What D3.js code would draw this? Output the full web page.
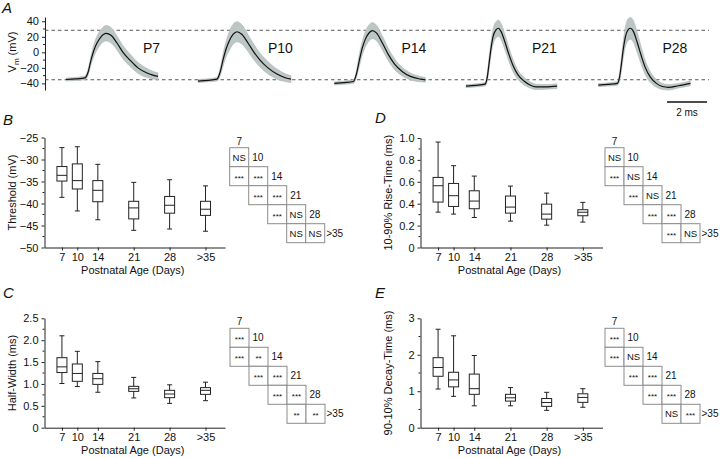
<!DOCTYPE html>
<html><head><meta charset="utf-8">
<script src="https://cdn.jsdelivr.net/npm/d3@7"></script>
<style>
body{margin:0;background:#fff}
svg{display:block}
text{font-family:"Liberation Sans",Arial,Helvetica,sans-serif;fill:#111}
</style>
</head><body>
<svg id="c" width="720" height="458"></svg>
<script>
// ---------- data ----------
const ages = ["7","10","14","21","28",">35"];
const ageDays = [7,10,14,21,28,35];

// Panel A: mean +/- SD action potential traces (time in ms from trace start, Vm in mV)
const traceNames = ["P7","P10","P14","P21","P28"];
const traceStart = [1.05, 7.65, 14.47, 21.05, 27.67];
const p7T  = [0,0.5,0.95,1.1,1.25,1.4,1.55,1.75,2.0,2.25,2.55,2.85,3.2,3.6,4.0,4.3,4.6];
const p7V  = [-35,-34.3,-32.8,-26,-10,3,12,20,24.5,22,12,0,-10,-20,-26,-29,-31];
const p7Sd = [2,2,2.5,4,6,8,9,9.5,10,10,9,8.5,8,7,6,5,4.5];
const p10T  = [0,0.5,0.95,1.1,1.25,1.4,1.55,1.75,1.95,2.2,2.5,2.8,3.1,3.5,3.95,4.4,4.65];
const p10V  = [-37,-36,-34.5,-26,-10,4,14,23,26.5,23,12,0,-10,-20,-28,-33,-34.5];
const p10Sd = [2,2,2.5,5,8,10,12,13,13,12.5,11,10,9,8,6.5,5,4.5];
const p14T  = [0,0.5,0.95,1.1,1.25,1.4,1.55,1.75,1.9,2.1,2.4,2.7,3.0,3.4,3.8,4.3,4.55];
const p14V  = [-40,-39,-37.5,-28,-10,6,17,25.5,28,25,12,-3,-15,-25,-31,-34.5,-35.5];
const p14Sd = [2,2,2.5,5,8,9,10,10.5,10.5,10,9,8,7,5.5,4.5,3.5,3];
const p21T  = [0,0.5,0.95,1.05,1.15,1.25,1.35,1.5,1.62,1.75,1.95,2.15,2.35,2.6,2.9,3.2,3.5,4.0,4.55];
const p21V  = [-43.5,-42.5,-41,-34,-15,5,20,29,31,27,13,-3,-17,-29,-37,-42,-44.5,-44.5,-43.5];
const p21Sd = [2,2,2.5,5,8,9,10,10.5,10.5,10.5,10,9,8,6,5,4,3.5,3,3];
const p28T  = [0,0.5,0.95,1.05,1.15,1.25,1.35,1.5,1.6,1.75,1.95,2.15,2.35,2.6,2.9,3.2,3.5,4.0,4.6];
const p28V  = [-42.2,-41.3,-40,-33,-15,5,20,29.5,31,27,12,-5,-20,-32,-40,-44,-45,-43,-40];
const p28Sd = [2,2,2.5,5,9,11,13,14,14,14,13,11,9,7,5,4,3.5,3,3];
const dashedLevels = [28.4, -35.3];
const vmTicks = [-40,-20,0,20,40];

// Panel B: Threshold (mV)
const thresholdHigh   = [-27.3,-27.1,-31.1,-35.2,-34.6,-36.0];
const thresholdQ3     = [-31.6,-31.0,-34.8,-39.5,-38.4,-39.5];
const thresholdMedian = [-33.6,-34.8,-37.0,-41.0,-40.4,-41.3];
const thresholdQ1     = [-34.9,-36.7,-39.6,-43.5,-42.2,-42.7];
const thresholdLow    = [-38.6,-41.7,-43.7,-46.1,-45.8,-46.3];
const thresholdSig = [["NS"],["***","***"],["***","***"],["***","NS"],["NS","NS"]];

// Panel D: 10-90% rise time (ms)
const riseHigh   = [0.963,0.747,0.652,0.561,0.497,0.412];
const riseQ3     = [0.640,0.585,0.518,0.470,0.396,0.345];
const riseMedian = [0.564,0.473,0.424,0.369,0.305,0.322];
const riseQ1     = [0.415,0.375,0.354,0.314,0.259,0.290];
const riseLow    = [0.323,0.305,0.274,0.241,0.204,0.232];
const riseSig = [["NS"],["***","NS"],["***","NS"],["***","***"],["***","NS"]];

// Panel C: half-width (ms)
const halfHigh   = [2.10,1.745,1.51,1.15,0.98,1.04];
const halfQ3     = [1.60,1.456,1.24,0.945,0.854,0.915];
const halfMedian = [1.39,1.24,1.12,0.89,0.77,0.854];
const halfQ1     = [1.26,1.06,0.99,0.83,0.686,0.762];
const halfLow    = [1.01,0.94,0.81,0.68,0.556,0.617];
const halfSig = [["***"],["***","**"],["***","***"],["***","***"],["**","**"]];

// Panel E: 90-10% decay time (ms)
const decayHigh   = [2.70,2.52,1.98,1.10,0.97,1.07];
const decayQ3     = [1.92,1.52,1.47,0.915,0.80,0.93];
const decayMedian = [1.65,1.31,1.07,0.82,0.69,0.83];
const decayQ1     = [1.41,1.12,0.915,0.73,0.585,0.695];
const decayLow    = [1.06,0.86,0.60,0.60,0.476,0.56];
const decaySig = [["***"],["***","NS"],["***","***"],["***","***"],["NS","***"]];

// ---------- drawing ----------
const svg = d3.select("#c");
const FONT = 11;

function letter(t, x, y){
  svg.append("text").attr("x",x).attr("y",y).text(t)
    .style("font-size","15px").style("font-style","italic");
}

// ----- Panel A -----
const tx = d3.scaleLinear().domain([0, 33.35]).range([45, 712]);
const vy = d3.scaleLinear().domain([-48.5, 45.5]).range([90, 17]);
const gA = svg.append("g");
const axA = gA.append("g").attr("transform","translate(45,0)")
  .call(d3.axisLeft(vy).tickValues(vmTicks).tickSize(3).tickPadding(3).tickSizeOuter(0));
axA.selectAll("text").style("font-size",FONT+"px").style("font-family",null);
axA.selectAll("path,line").attr("stroke","#222");
gA.append("g").selectAll("line").data([-30,-10,10,30]).join("line")
  .attr("x1",43).attr("x2",45).attr("y1",d=>vy(d)).attr("y2",d=>vy(d)).attr("stroke","#222");
const vmLab = gA.append("text").attr("transform","translate(16,52) rotate(-90)")
  .attr("text-anchor","middle").style("font-size",FONT+"px");
vmLab.append("tspan").text("V");
vmLab.append("tspan").text("m").attr("dy",3).style("font-size","8px");
vmLab.append("tspan").text(" (mV)").attr("dy",-3);

gA.selectAll(".dash").data(dashedLevels).join("line")
  .attr("x1",45).attr("x2",709).attr("y1",d=>vy(d)).attr("y2",d=>vy(d))
  .attr("stroke","#444").attr("stroke-width",0.9).attr("stroke-dasharray","3.5,3");

const traces = [
  {T:p7T,V:p7V,S:p7Sd},{T:p10T,V:p10V,S:p10Sd},{T:p14T,V:p14V,S:p14Sd},
  {T:p21T,V:p21V,S:p21Sd},{T:p28T,V:p28V,S:p28Sd}
];
traces.forEach((tr,k)=>{
  const pts = tr.T.map((t,i)=>({t:t+traceStart[k], v:tr.V[i], s:tr.S[i]}));
  const area = d3.area().curve(d3.curveMonotoneX)
    .x(d=>tx(d.t)).y0(d=>vy(d.v-d.s)).y1(d=>vy(d.v+d.s));
  const line = d3.line().curve(d3.curveMonotoneX).x(d=>tx(d.t)).y(d=>vy(d.v));
  gA.append("path").attr("d",area(pts)).attr("fill","#bcc6c4").attr("stroke","#a8b2b0").attr("stroke-width",0.5);
  gA.append("path").attr("d",line(pts)).attr("fill","none").attr("stroke","#111").attr("stroke-width",1.2);
  gA.append("text").attr("x", tx(traceStart[k]) + [77,70,67,66,64][k]).attr("y",53)
    .text(traceNames[k]).style("font-size","14px");
});
gA.append("line").attr("x1",tx(31.1)).attr("x2",tx(33.1)).attr("y1",102).attr("y2",102)
  .attr("stroke","#111").attr("stroke-width",1.3);
gA.append("text").attr("x",(tx(31.1)+tx(33.1))/2).attr("y",116).attr("text-anchor","middle")
  .text("2 ms").style("font-size","10px");
letter("A",2,13);

// ----- Box panels -----
function boxPanel(cfg){
  const g = svg.append("g");
  const x = d3.scaleLinear().domain([3.6,38.8]).range([cfg.x0,cfg.x1]);
  const y = d3.scaleLinear().domain(cfg.domain).range([cfg.yb,cfg.yt]);
  const ax = g.append("g").attr("transform",`translate(${cfg.x0},0)`)
    .call(d3.axisLeft(y).tickValues(cfg.ticks).tickFormat(cfg.fmt).tickSize(3).tickPadding(3).tickSizeOuter(0));
  ax.selectAll("text").style("font-size",FONT+"px").style("font-family",null);
  ax.selectAll("path,line").attr("stroke","#222");
  g.append("g").selectAll("line").data(cfg.minor).join("line")
    .attr("x1",cfg.x0-2).attr("x2",cfg.x0).attr("y1",d=>y(d)).attr("y2",d=>y(d)).attr("stroke","#222");
  const bx = g.append("g").attr("transform",`translate(0,${cfg.yb})`)
    .call(d3.axisBottom(x).tickValues(ageDays).tickFormat((d,i)=>ages[i]).tickSize(3).tickPadding(3).tickSizeOuter(0));
  bx.selectAll("text").style("font-size",FONT+"px").style("font-family",null);
  bx.selectAll("path,line").attr("stroke","#222");
  g.append("text").attr("x",(cfg.x0+cfg.x1)/2 - 2).attr("y",cfg.yb+26).attr("text-anchor","middle")
    .text("Postnatal Age (Days)").style("font-size",FONT+"px");
  g.append("text").attr("transform",`translate(${cfg.x0-29},${(cfg.yt+cfg.yb)/2}) rotate(-90)`)
    .attr("text-anchor","middle").text(cfg.ylabel).style("font-size",FONT+"px");
  const bw = 10, cw = 5;
  ageDays.forEach((d,i)=>{
    const cx = x(d);
    const bg = g.append("g").attr("stroke","#222").attr("stroke-width",1).attr("fill","none");
    bg.append("line").attr("x1",cx).attr("x2",cx).attr("y1",y(cfg.high[i])).attr("y2",y(cfg.q3[i]));
    bg.append("line").attr("x1",cx).attr("x2",cx).attr("y1",y(cfg.q1[i])).attr("y2",y(cfg.low[i]));
    bg.append("line").attr("x1",cx-cw/2).attr("x2",cx+cw/2).attr("y1",y(cfg.high[i])).attr("y2",y(cfg.high[i]));
    bg.append("line").attr("x1",cx-cw/2).attr("x2",cx+cw/2).attr("y1",y(cfg.low[i])).attr("y2",y(cfg.low[i]));
    bg.append("rect").attr("x",cx-bw/2).attr("width",bw)
      .attr("y",y(cfg.q3[i])).attr("height",y(cfg.q1[i])-y(cfg.q3[i])).attr("fill","#fff");
    bg.append("line").attr("x1",cx-bw/2).attr("x2",cx+bw/2).attr("y1",y(cfg.med[i])).attr("y2",y(cfg.med[i]));
  });
  // significance matrix
  const cs = 19, mx = cfg.mx, my = cfg.my, LF = 10;
  const mg = g.append("g");
  mg.append("text").attr("x",mx+cs/2).attr("y",my-3).attr("text-anchor","middle")
    .text(ages[0]).style("font-size",LF+"px");
  cfg.sig.forEach((row,r)=>{
    const startCol = r===0 ? 0 : r-1;
    row.forEach((s,j)=>{
      const c = startCol + j;
      mg.append("rect").attr("x",mx+c*cs).attr("y",my+r*cs).attr("width",cs).attr("height",cs)
        .attr("fill","#fff").attr("stroke","#8c8c8c").attr("stroke-width",1);
      mg.append("text").attr("x",mx+c*cs+cs/2).attr("y",my+r*cs+cs/2+(s==="NS"?3.4:4.5))
        .attr("text-anchor","middle").text(s)
        .style("font-size", s==="NS" ? "9.5px" : "8px");
    });
    const lab = ages[r+1];
    mg.append("text").attr("x",mx+(r+1)*cs+(lab===">35"?1.5:3.5)).attr("y",my+r*cs+cs/2+3.6)
      .text(lab).style("font-size",LF+"px");
  });
}

const fmt1 = d => d===0 ? "0" : d3.format(".1f")(d);
boxPanel({x0:44.5,x1:225,yt:137.5,yb:247.5,domain:[-50,-25],
  ticks:d3.range(-50,-24,5),minor:d3.range(-47.5,-25,5),fmt:d3.format("d"),
  ylabel:"Threshold (mV)",high:thresholdHigh,q3:thresholdQ3,med:thresholdMedian,q1:thresholdQ1,low:thresholdLow,
  sig:thresholdSig,mx:229.7,my:147.7});
boxPanel({x0:420.5,x1:602.5,yt:138,yb:247.5,domain:[0,1],
  ticks:[0,0.2,0.4,0.6,0.8,1.0],minor:[0.1,0.3,0.5,0.7,0.9],fmt:fmt1,
  ylabel:"10-90% Rise-Time (ms)",high:riseHigh,q3:riseQ3,med:riseMedian,q1:riseQ1,low:riseLow,
  sig:riseSig,mx:605,my:147.7});
boxPanel({x0:44.5,x1:225,yt:318.3,yb:427.7,domain:[0,2.5],
  ticks:[0,0.5,1.0,1.5,2.0,2.5],minor:[0.25,0.75,1.25,1.75,2.25],fmt:fmt1,
  ylabel:"Half-Width (ms)",high:halfHigh,q3:halfQ3,med:halfMedian,q1:halfQ1,low:halfLow,
  sig:halfSig,mx:230,my:328.3});
boxPanel({x0:420.5,x1:602.5,yt:318.3,yb:427.7,domain:[0,3],
  ticks:[0,1,2,3],minor:[0.5,1.5,2.5],fmt:d3.format("d"),
  ylabel:"90-10% Decay-Time (ms)",high:decayHigh,q3:decayQ3,med:decayMedian,q1:decayQ1,low:decayLow,
  sig:decaySig,mx:605,my:328.3});

letter("B",3,125);
letter("D",375,123);
letter("C",3,298);
letter("E",375,298);
</script>
</body></html>
